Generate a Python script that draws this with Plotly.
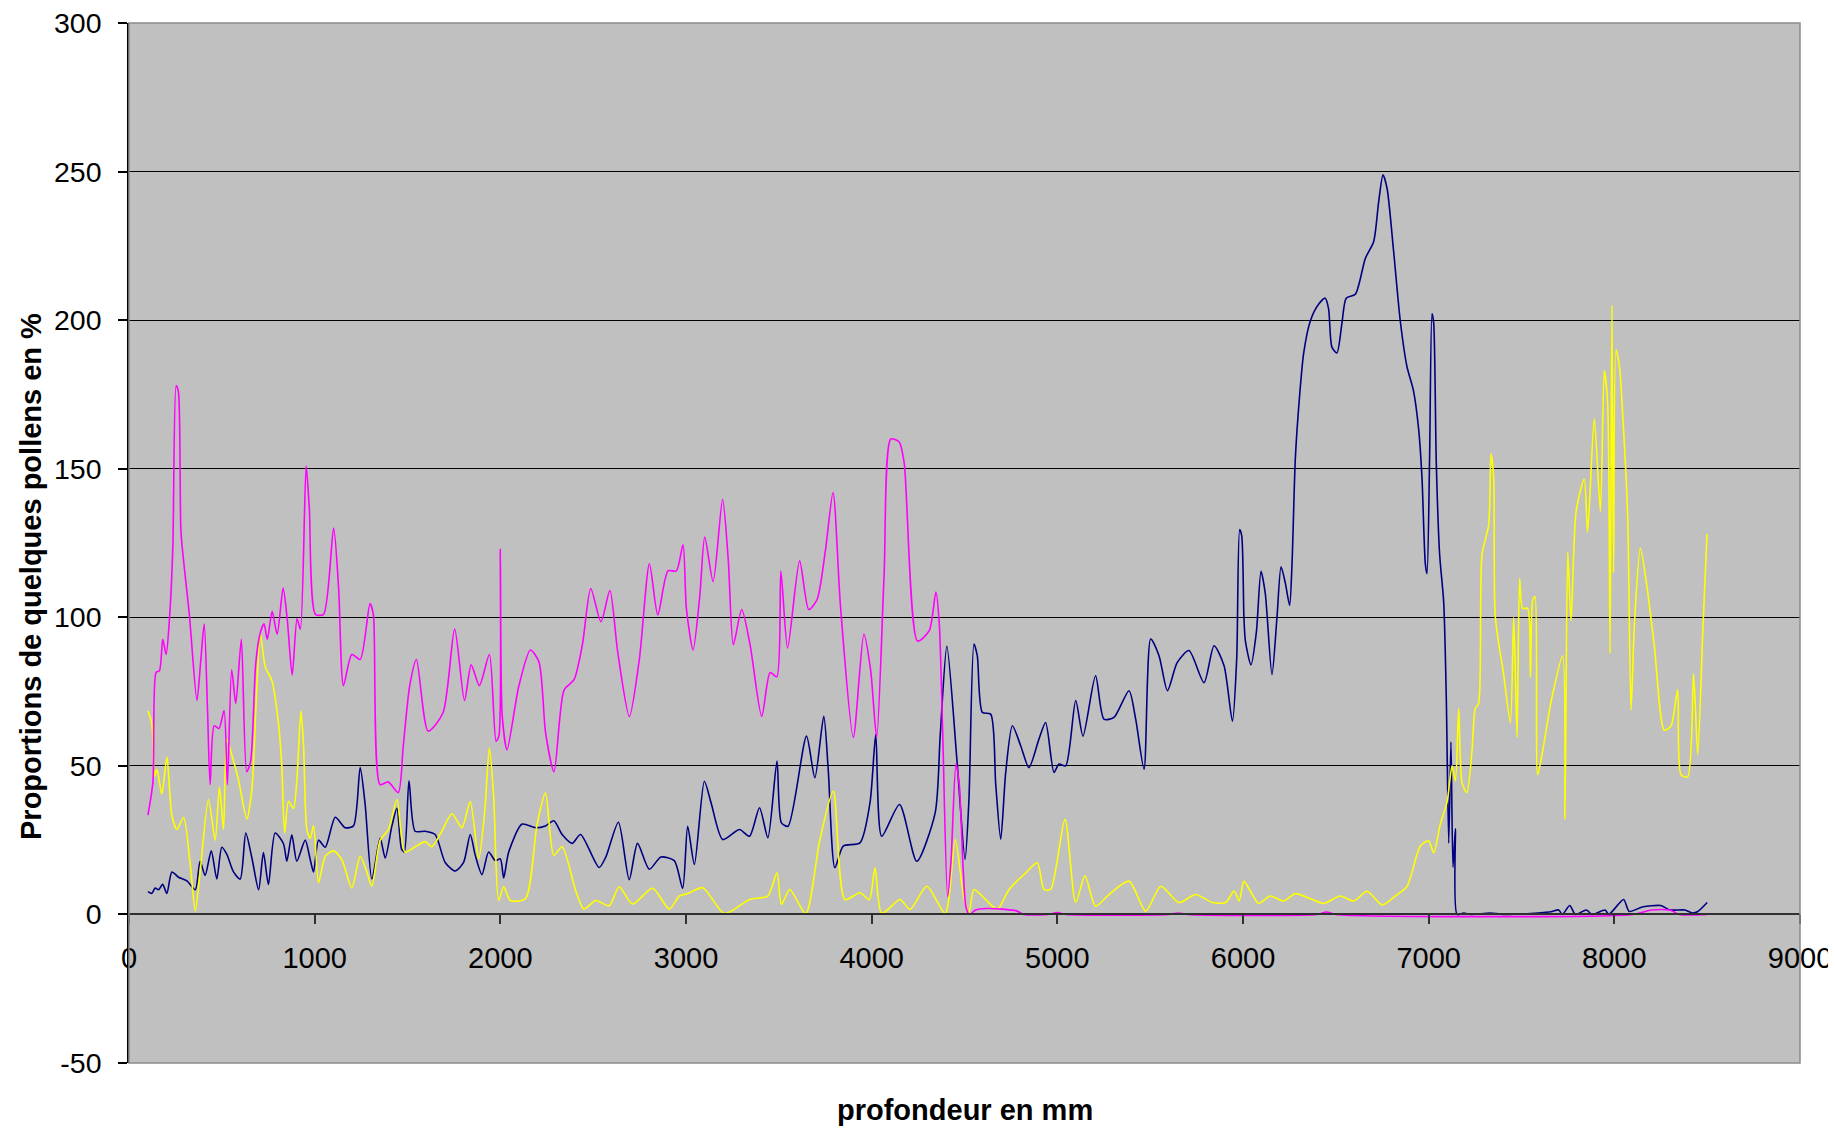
import plotly.graph_objects as go

# ---------------- data (depth in mm, proportion in %) ----------------
blue_depth = [102, 123, 141, 159, 181, 204, 231, 267, 312, 357, 383, 410, 443, 473, 500, 527, 563, 599, 629, 662,
              698, 724, 751, 787, 832, 850, 877, 904, 949, 976, 994, 1021, 1057, 1111, 1164, 1209, 1245, 1272, 1308,
              1353, 1380, 1416, 1443, 1468, 1483, 1508, 1541, 1595, 1649, 1703, 1757, 1802, 1838, 1865, 1901, 1937,
              1973, 2000, 2018, 2045, 2117, 2189, 2243, 2288, 2333, 2387, 2432, 2532, 2568, 2636, 2694, 2739, 2802,
              2865, 2937, 2982, 3009, 3045, 3099, 3135, 3198, 3288, 3342, 3396, 3441, 3490, 3514, 3550, 3649, 3694,
              3742, 3766, 3802, 3847, 3937, 3991, 4022, 4054, 4150, 4243, 4342, 4369, 4405, 4459, 4503, 4524, 4551,
              4569, 4596, 4641, 4668, 4695, 4722, 4758, 4803, 4847, 4901, 4937, 4982, 5009, 5045, 5099, 5138, 5206,
              5251, 5305, 5386, 5422, 5467, 5503, 5548, 5593, 5646, 5709, 5790, 5844, 5898, 5943, 5966, 5982, 5993,
              6005, 6013, 6043, 6072, 6097, 6120, 6156, 6183, 6205, 6228, 6251, 6264, 6282, 6305, 6327, 6363, 6408,
              6443, 6461, 6479, 6506, 6533, 6556, 6605, 6659, 6704, 6730, 6754, 6776, 6811, 6847, 6883, 6918, 6946,
              6964, 6982, 6991, 7005, 7018, 7027, 7041, 7059, 7081, 7095, 7108, 7120, 7131, 7144, 7153, 7189, 7224,
              7332, 7400, 7650, 7700, 7720, 7760, 7790, 7850, 7880, 7950, 7970, 8050, 8080, 8150, 8250, 8300, 8380,
              8420, 8450, 8500]
blue_value = [7.7, 7.1, 8.9, 8.3, 10.1, 7.1, 14.3, 12.5, 11.3, 8.3, 17.9, 13.1, 21.4, 11.9, 22.6, 20.2, 14.3, 11.9,
              27.4, 19, 8.3, 20.8, 10.1, 27.4, 23.8, 17.9, 26.8, 17.9, 25, 18.5, 14.3, 25, 22.6, 32.7, 29.2, 29.8, 49.4,
              36.9, 11.9, 25.6, 19, 29.8, 35.7, 22, 21, 45, 28, 28, 26.9, 17.5, 14.6, 17.5, 26.9, 19.9, 13.4, 21, 18.1,
              18.7, 12.3, 21, 30.4, 29.2, 29.8, 31.5, 26.9, 23.9, 26.9, 15.8, 19.3, 31, 11.7, 23.9, 15.2, 19.3, 18.1,
              8.8, 29.7, 16.8, 44.8, 37.6, 25.2, 28.6, 26.3, 35.9, 25.8, 51.6, 30.8, 29.7, 60, 46, 66.7, 48.8, 15.7,
              23, 24.1, 37.6, 60.5, 26.3, 37, 17.9, 34.2, 60, 90.2, 52.1, 18.5, 38.8, 91, 87, 68, 67.4, 44, 25.3, 47.8,
              63.5, 56.7, 49.4, 59, 64.6, 47.8, 50.6, 50, 72, 60, 80.3, 65.7, 66.3, 75.3, 65.7, 48.9, 92.7, 87, 75.3,
              84.8, 88.8, 78, 90.4, 83.7, 65, 86, 129.5, 127.5, 100, 92, 84, 95, 115.5, 108, 80.7, 100, 117, 111.5, 104,
              118, 153.6, 174.7, 189, 199.8, 205.4, 207.4, 203.8, 190.9, 189, 199, 207.4, 208.7, 220.8, 226.5, 239.5,
              248.9, 244.3, 223.3, 199.8, 184.4, 176.3, 163.3, 147, 118, 114.7, 153.6, 202.2, 199, 152, 121.2, 105,
              72.6, 24, 58, 15.9, 28.8, 0, 0.5, 0, 0.5, 0, 0.8, 1.5, 0, 3, 0, 1.5, 0, 1.5, 0, 5, 1, 2.5, 3, 1.5, 1.5,
              0.5, 1, 4]

yellow_depth = [102, 123, 137, 150, 177, 204, 231, 258, 294, 330, 357, 383, 428, 464, 487, 509, 527, 554, 590, 635,
                662, 689, 707, 734, 770, 805, 823, 838, 859, 886, 904, 926, 940, 958, 976, 994, 1021, 1057, 1102, 1146,
                1200, 1245, 1281, 1308, 1353, 1398, 1443, 1486, 1541, 1595, 1631, 1685, 1739, 1793, 1838, 1883, 1915,
                1941, 1964, 1991, 2018, 2054, 2135, 2198, 2243, 2288, 2333, 2405, 2450, 2514, 2586, 2640, 2712, 2820,
                2910, 2964, 3009, 3090, 3207, 3342, 3441, 3490, 3514, 3559, 3645, 3721, 3793, 3856, 3937, 3987, 4018,
                4054, 4153, 4207, 4297, 4396, 4450, 4495, 4523, 4551, 4614, 4677, 4740, 4830, 4892, 4928, 4964, 5041,
                5099, 5149, 5206, 5278, 5386, 5476, 5557, 5655, 5745, 5835, 5907, 5952, 5979, 6005, 6040, 6084, 6147,
                6219, 6282, 6363, 6434, 6524, 6596, 6668, 6749, 6820, 6883, 6955, 7000, 7027, 7063, 7099, 7126, 7144,
                7162, 7180, 7206, 7233, 7251, 7269, 7287, 7323, 7336, 7350, 7359, 7404, 7440, 7458, 7476, 7490, 7506,
                7533, 7548, 7560, 7573, 7587, 7614, 7659, 7722, 7734, 7749, 7767, 7794, 7838, 7856, 7892, 7925, 7946,
                7964, 7977, 7987, 7996, 8009, 8027, 8050, 8072, 8090, 8108, 8140, 8171, 8215, 8269, 8305, 8341, 8359,
                8395, 8427, 8449, 8476, 8499]
yellow_value = [68.5, 64.3, 46.4, 48.8, 40.5, 53, 33.3, 28.6, 32.7, 16.7, 1.2, 14.3, 38.7, 25, 42.9, 28.6, 59, 53.6,
                45.2, 32.1, 42.3, 77.4, 94.6, 83.3, 78.6, 64.3, 50, 27.4, 38.1, 35.7, 45.2, 68.5, 57, 28.6, 25.6, 29.8,
                10.7, 19.6, 21.4, 18.5, 8.9, 19.6, 14.3, 9.5, 25, 28.6, 38.7, 21, 22.8, 24.5, 22.8, 28, 33.9, 29.2, 38,
                18.7, 33.9, 56, 39.7, 4.7, 9.3, 4.7, 5.3, 30.4, 40.9, 19.9, 22.8, 8.2, 1.8, 4.7, 2.9, 9.3, 3.5, 8.8, 1.8,
                6.2, 7, 9, 0.3, 5, 6.2, 14, 3.4, 8.4, 0.3, 25.2, 41.5, 5, 7.3, 5, 15.7, 0.3, 5, 1.7, 9.5, 0.3, 25.2, 6.2,
                0.3, 8.4, 5, 1.7, 8.4, 14, 17.4, 8.4, 8.4, 32, 4, 13, 2.8, 6.7, 11.2, 1.1, 9.5, 4, 6.7, 4, 4, 7.9, 4.5,
                11.2, 7.8, 3.7, 6.2, 4.5, 7, 5.3, 3.7, 6.2, 4.5, 7.8, 3.2, 6.2, 9.4, 23, 24.8, 20.7, 30.5, 37.8, 50, 45,
                69.3, 44.2, 41, 54.8, 69.3, 71, 121, 131, 155, 147, 100, 80.7, 64.5, 100, 59.6, 113, 103, 103, 79.7,
                105.6, 107, 47, 55, 71.5, 87, 32, 122, 98.8, 135.6, 146.5, 128.7, 166.9, 135.6, 183, 172, 87.9, 205,
                115, 190, 184.6, 162.8, 134, 68.8, 97.4, 123.3, 112.4, 90.6, 62, 63.4, 75.6, 47, 46.3, 81, 53.8, 94.7,
                128]

magenta_depth = [102, 129, 146, 164, 182, 200, 218, 236, 254, 266, 280, 298, 325, 366, 387, 405, 423, 437, 459, 485,
                 512, 530, 553, 575, 605, 634, 655, 682, 705, 727, 745, 771, 798, 830, 852, 879, 905, 923, 954, 971,
                 1004, 1048, 1102, 1129, 1155, 1200, 1245, 1298, 1316, 1352, 1396, 1450, 1477, 1512, 1548, 1611, 1691,
                 1754, 1807, 1843, 1887, 1941, 1977, 1992, 2000, 2010, 2036, 2099, 2162, 2208, 2244, 2289, 2343, 2397,
                 2442, 2487, 2542, 2590, 2632, 2695, 2749, 2803, 2848, 2903, 2948, 2984, 3002, 3038, 3074, 3101, 3146,
                 3197, 3228, 3255, 3300, 3345, 3408, 3453, 3489, 3511, 3547, 3612, 3661, 3706, 3751, 3792, 3832, 3901,
                 3958, 3994, 4027, 4067, 4103, 4148, 4175, 4247, 4310, 4346, 4364, 4382, 4409, 4427, 4454, 4472, 4508,
                 4527, 4560, 4620, 4700, 4780, 4820, 4950, 5000, 5050, 5600, 5650, 5700, 6400, 6450, 6500, 8100, 8200,
                 8300, 8350, 8500]
magenta_value = [33.4, 44.6, 81.5, 82, 92.6, 87.5, 99.5, 123.5, 178, 176, 128.6, 116.6, 101, 72, 85.8, 97.8, 68.6,
                 43.7, 63.5, 62.6, 68.6, 43.7, 82.3, 71, 92.6, 48, 51.5, 84, 94.3, 97.8, 92.6, 102, 94.3, 109.8, 99.5,
                 80.6, 99.5, 96, 151, 137, 101, 101, 130, 109.8, 77, 87.5, 85.8, 104.6, 101, 43.7, 44.6, 41, 56.6, 77,
                 85.8, 61.7, 67.8, 96, 72, 84, 77, 87.5, 58.3, 60, 123, 67, 55.4, 76.7, 89, 85, 61, 48, 75.5, 79, 90.8,
                 109.7, 98.5, 109, 88.4, 66.6, 86, 118, 100.8, 115.6, 115.6, 124.4, 103, 89, 107, 127, 112, 139.7, 119,
                 90.8, 102.6, 90.8, 66.6, 81.4, 80, 115.6, 89.6, 119, 102.6, 106, 122.6, 142, 103.8, 59.6, 94.3, 82.5,
                 59.6, 114.4, 160, 159, 152, 92, 95.5, 108.5, 98, 62.5, 6, 17.7, 50.7, 43.6, 2.4, 0, 1.5, 2, 1.8, 1.2,
                 0, 0, 0.6, 0, 0, 0.5, 0, 0, 0.8, 0, 0, 1.5, 1.5, 0, 0]

x_ticks = [0, 1000, 2000, 3000, 4000, 5000, 6000, 7000, 8000, 9000]
y_ticks = [-50, 0, 50, 100, 150, 200, 250, 300]

x_title = "profondeur en mm"
y_title = "Proportions de quelques pollens en %"

# ---------------- figure ----------------
# the page body adds an 8px offset, so the figure is 8px smaller than the window
OFF = 8
W, H = 1836 - OFF, 1131 - OFF
ML, MR, MT, MB = 129 - OFF, 36, 23 - OFF, 68
PW, PH = W - ML - MR, H - MT - MB
FONT = "Liberation Sans, Arial, sans-serif"

fig = go.Figure()
for xs, ys, col in [(blue_depth, blue_value, "#000080"),
                    (yellow_depth, yellow_value, "#FFFF00"),
                    (magenta_depth, magenta_value, "#FF00FF")]:
    fig.add_trace(go.Scatter(x=xs, y=ys, mode="lines",
                             line=dict(color=col, width=1.6, shape="spline", smoothing=0.7),
                             hoverinfo="skip", showlegend=False))

fig.update_layout(
    width=W, height=H,
    margin=dict(l=ML, r=MR, t=MT, b=MB, pad=0, autoexpand=False),
    paper_bgcolor="white",
    plot_bgcolor="#C0C0C0",
    font=dict(family=FONT, size=28, color="black"),
    showlegend=False,
    xaxis=dict(range=[0, 9000], tickvals=x_ticks, ticktext=[str(v) for v in x_ticks],
               showgrid=False, zeroline=False, automargin=False,
               showline=True, linecolor="#303030", linewidth=1.5,
               ticks="outside", ticklen=9, tickwidth=1.5, tickcolor="#303030",
               anchor="free", position=50 / 350,
               ticklabelstandoff=9, ticklabeloverflow="allow",
               tickfont=dict(family=FONT, size=29, color="black")),
    yaxis=dict(range=[-50, 300], tickvals=y_ticks, ticktext=[str(v) for v in y_ticks],
               showgrid=True, gridcolor="black", gridwidth=1,
               zeroline=False, automargin=False,
               showline=True, linecolor="black", linewidth=1.5,
               ticks="outside", ticklen=9, tickwidth=1.5, tickcolor="black",
               ticklabelstandoff=11, ticklabeloverflow="allow",
               tickfont=dict(family=FONT, size=28.5, color="black")),
    shapes=[dict(type="rect", xref="paper", yref="paper", x0=0, x1=1, y0=0, y1=1,
                 line=dict(color="#8C8C8C", width=1.5), layer="above")],
    annotations=[
        dict(text=f"<b>{x_title}</b>", xref="paper", yref="paper",
             x=0.5, y=((MT + PH) - (1110 - OFF)) / PH, xanchor="center", yanchor="middle",
             showarrow=False, font=dict(family=FONT, size=29, color="black")),
        dict(text=f"<b>{y_title}</b>", xref="paper", yref="paper",
             x=((31 - OFF) - ML) / PW, y=((MT + PH) - (577 - OFF)) / PH, xanchor="center", yanchor="middle",
             textangle=-90, showarrow=False, font=dict(family=FONT, size=29, color="black")),
    ],
)

fig.write_html("out.html")
